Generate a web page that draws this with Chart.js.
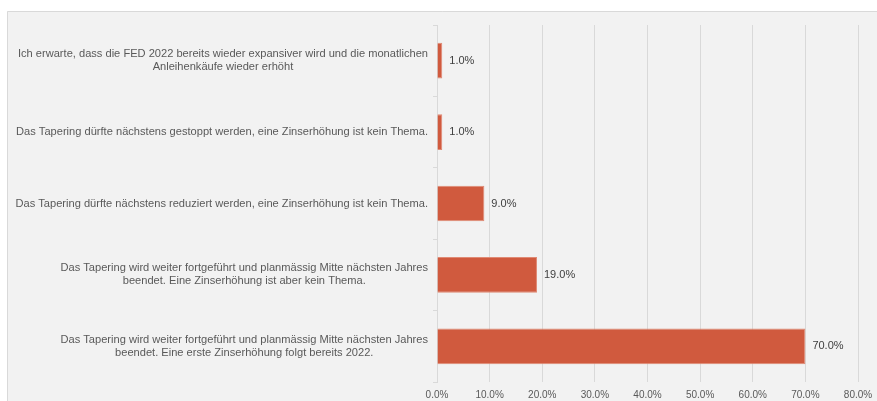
<!DOCTYPE html>
<html>
<head>
<meta charset="utf-8">
<script src="https://cdn.jsdelivr.net/npm/chart.js@4/dist/chart.umd.min.js"></script>
<style>
html,body{margin:0;padding:0;background:#ffffff;}
#wrap{position:relative;width:877px;height:401px;}
</style>
</head>
<body>
<div id="wrap"><canvas id="c" width="877" height="401"></canvas></div>
<script>
const categories = [
  ["Ich erwarte, dass die FED 2022 bereits wieder expansiver wird und die monatlichen", "Anleihenkäufe wieder erhöht"],
  ["Das Tapering dürfte nächstens gestoppt werden, eine Zinserhöhung ist kein Thema."],
  ["Das Tapering dürfte nächstens reduziert werden, eine Zinserhöhung ist kein Thema."],
  ["Das Tapering wird weiter fortgeführt und planmässig Mitte nächsten Jahres", "beendet. Eine Zinserhöhung ist aber kein Thema."],
  ["Das Tapering wird weiter fortgeführt und planmässig Mitte nächsten Jahres", "beendet. Eine erste Zinserhöhung folgt bereits 2022."]
];
const values = [1.0, 1.0, 9.0, 19.0, 70.0];
const xMin = 0, xMax = 80, xStep = 10;

const FONT = '"Liberation Sans", Arial, sans-serif';

const framePlugin = {
  id: 'frame',
  beforeDraw(chart) {
    const ctx = chart.ctx;
    ctx.save();
    ctx.fillStyle = '#ffffff';
    ctx.fillRect(0, 0, chart.width, chart.height);
    ctx.fillStyle = '#f2f2f2';
    ctx.fillRect(7, 11, chart.width - 7, chart.height - 11);
    ctx.strokeStyle = '#d9d9d9';
    ctx.lineWidth = 1;
    ctx.beginPath();
    ctx.moveTo(7.5, chart.height);
    ctx.lineTo(7.5, 11.5);
    ctx.lineTo(chart.width, 11.5);
    ctx.stroke();
    ctx.restore();
  }
};

const labelPlugin = {
  id: 'labels',
  afterDatasetsDraw(chart) {
    const ctx = chart.ctx;
    const ys = chart.scales.y;
    ctx.save();
    ctx.font = '11.1px ' + FONT;
    ctx.fillStyle = '#595959';
    ctx.textAlign = 'center';
    ctx.textBaseline = 'middle';
    const right = ys.right - 9;
    categories.forEach((lines, i) => {
      const cy = ys.getPixelForTick(i);
      let maxW = 0;
      lines.forEach(l => { maxW = Math.max(maxW, ctx.measureText(l).width); });
      const cx = right - maxW / 2;
      lines.forEach((l, j) => {
        ctx.fillText(l, cx, cy + (j - (lines.length - 1) / 2) * 13);
      });
    });
    // data labels
    ctx.font = '11px ' + FONT;
    ctx.fillStyle = '#404040';
    ctx.textAlign = 'left';
    const meta = chart.getDatasetMeta(0);
    meta.data.forEach((bar, i) => {
      ctx.fillText(values[i].toFixed(1) + '%', bar.x + 7, bar.y);
    });
    ctx.restore();
  }
};

new Chart(document.getElementById('c'), {
  type: 'bar',
  data: {
    labels: categories,
    datasets: [{
      data: values,
      backgroundColor: '#d05a3e',
      borderColor: '#e08a74',
      borderWidth: 1,
      barPercentage: 0.5,
      categoryPercentage: 1.0
    }]
  },
  options: {
    indexAxis: 'y',
    responsive: false,
    animation: false,
    devicePixelRatio: 1,
    layout: { padding: { top: 25, right: 19, left: 0, bottom: 0 } },
    plugins: { legend: { display: false }, tooltip: { enabled: false } },
    scales: {
      x: {
        min: xMin, max: xMax,
        ticks: {
          stepSize: xStep,
          color: '#595959',
          font: { family: FONT, size: 10 },
          padding: 7,
          maxRotation: 0,
          callback: v => v.toFixed(1) + '%'
        },
        grid: { color: '#d9d9d9', tickLength: 0, drawTicks: false },
        border: { display: false },
        afterFit(s) { s.height = 19; s.paddingRight = 0; s.paddingLeft = 0; }
      },
      y: {
        ticks: { display: false },
        grid: { drawOnChartArea: false, color: '#d9d9d9', tickLength: 4 },
        border: { display: true, color: '#d9d9d9' },
        afterFit(s) { s.width = 437; }
      }
    }
  },
  plugins: [framePlugin, labelPlugin]
});
</script>
</body>
</html>
